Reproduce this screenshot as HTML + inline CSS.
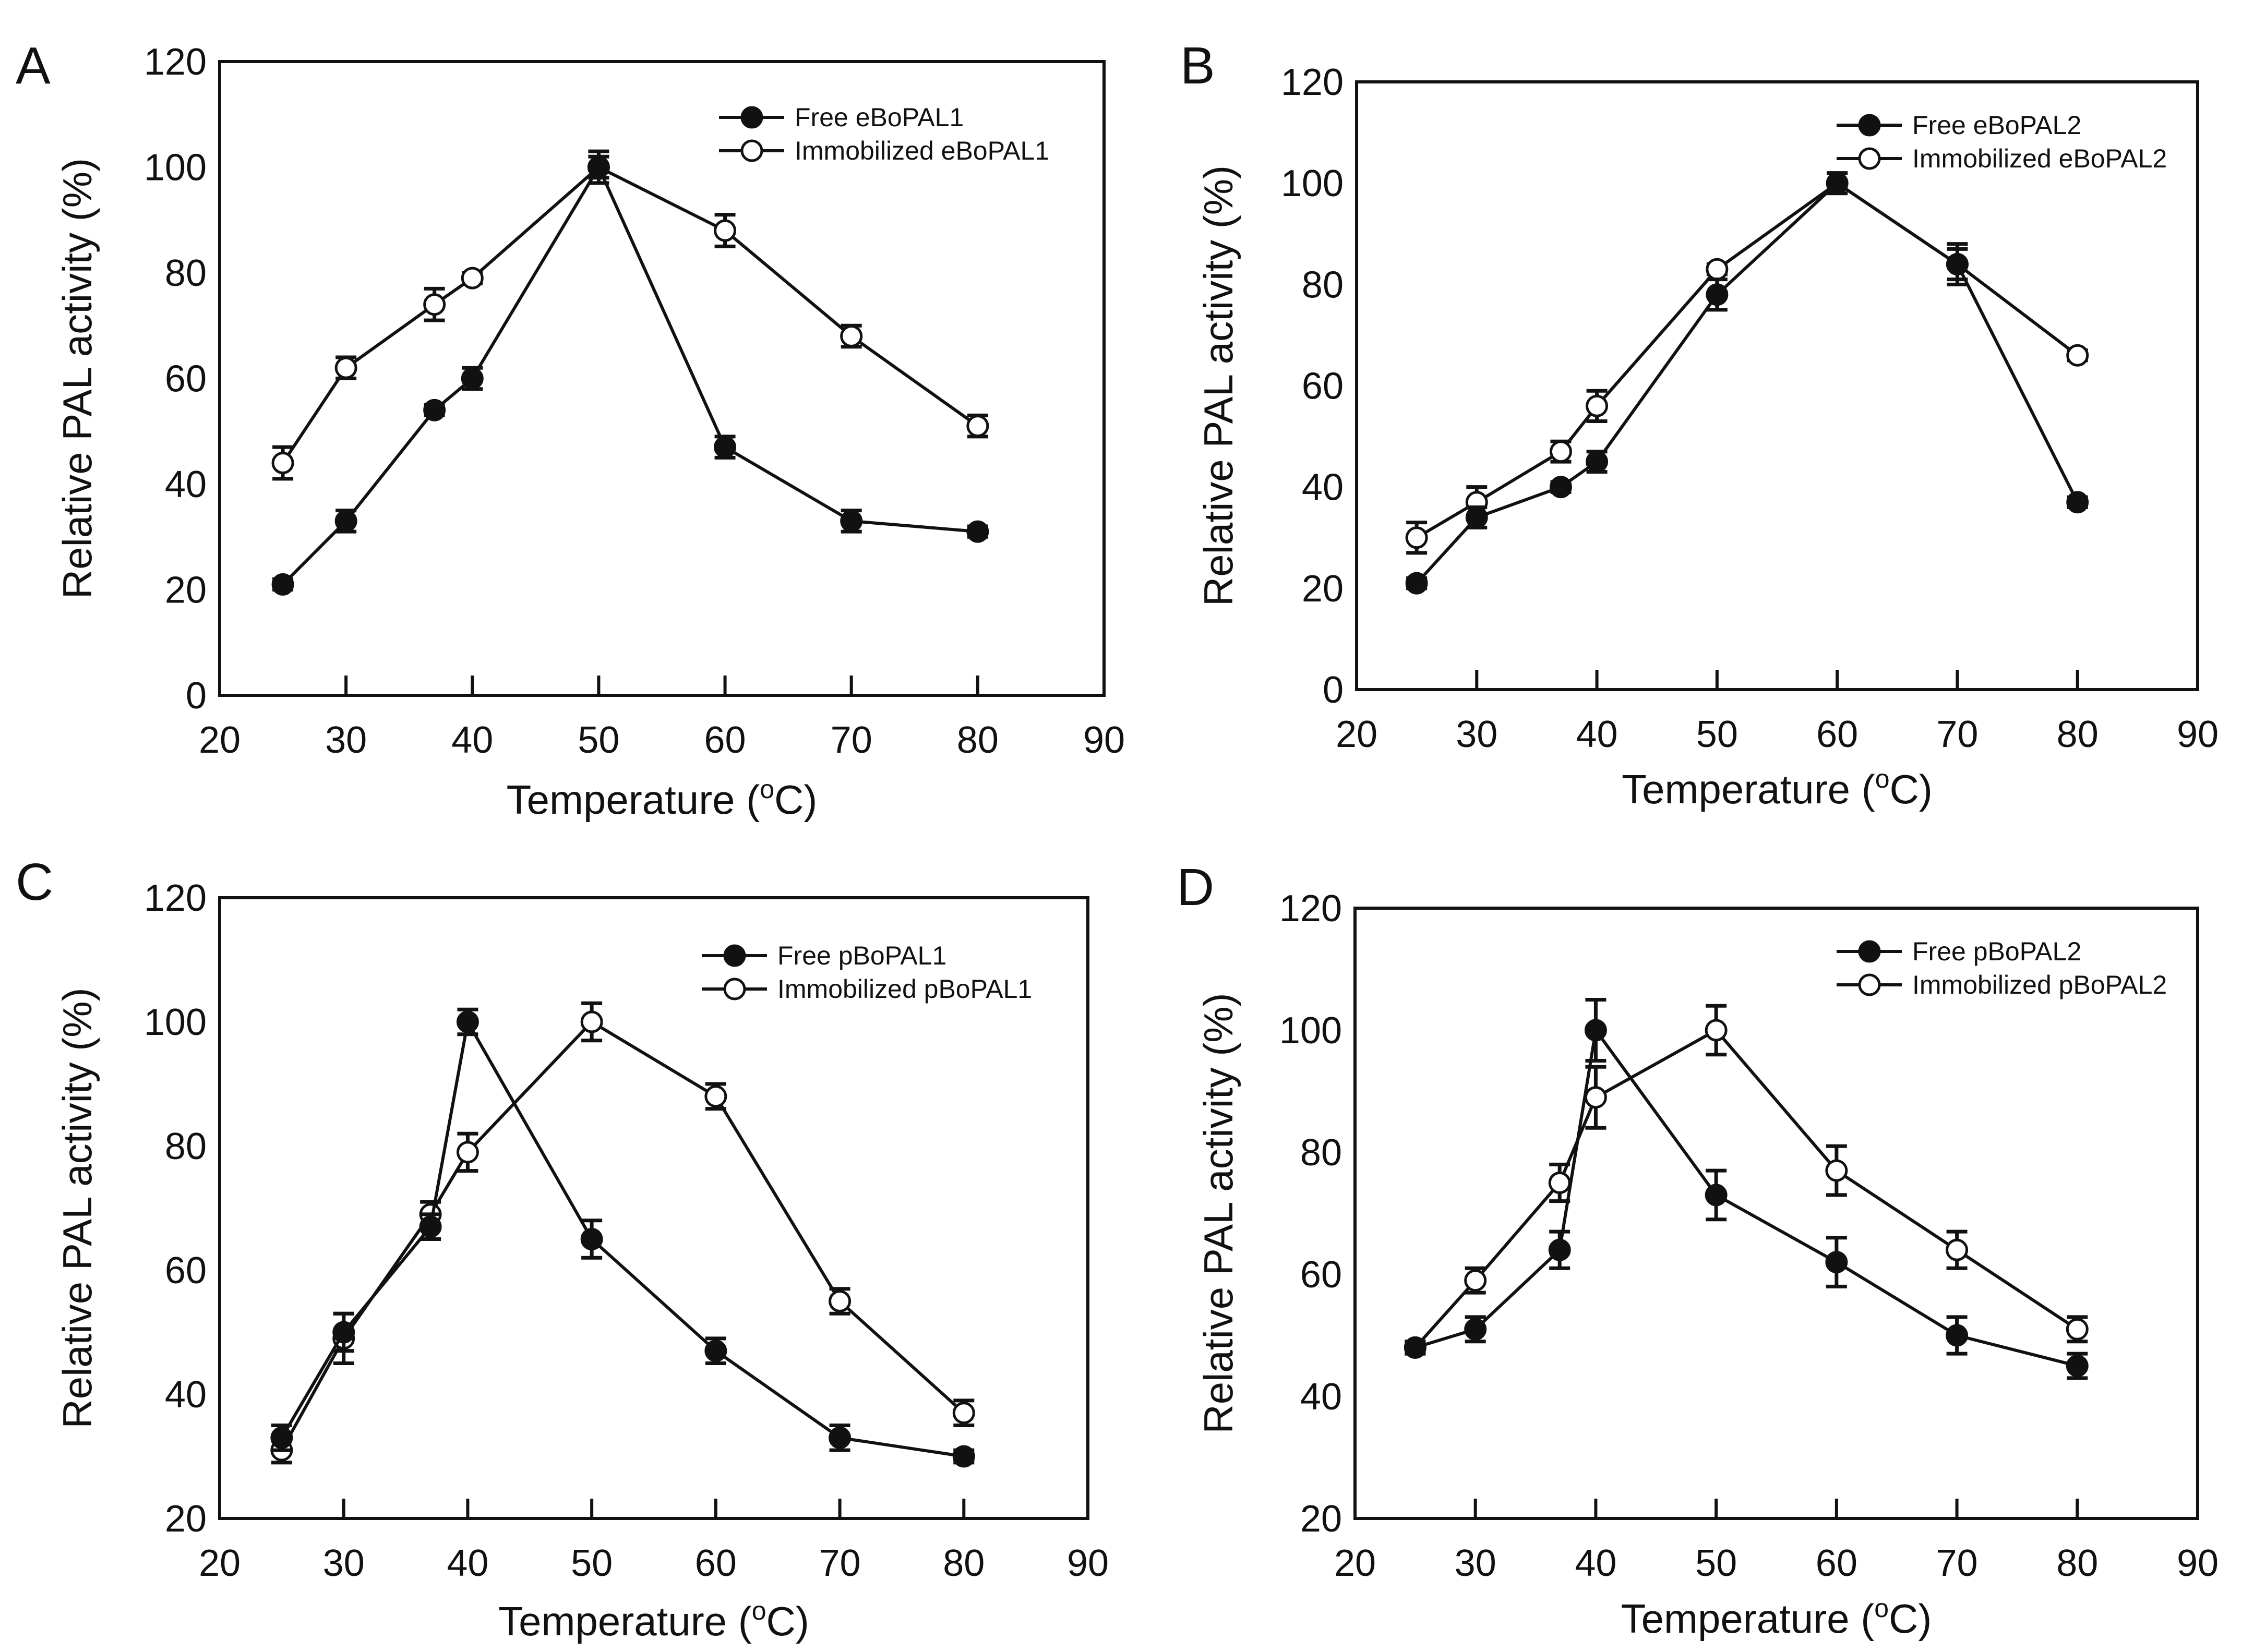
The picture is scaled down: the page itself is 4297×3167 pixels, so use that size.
<!DOCTYPE html>
<html><head><meta charset="utf-8">
<style>
html,body{margin:0;padding:0;background:#fff;}
svg{display:block;}
text{font-family:"Liberation Sans",Arial,sans-serif;fill:#111;}
</style></head>
<body>
<svg id="fig" width="4297" height="3167" viewBox="0 0 4297 3167" xmlns="http://www.w3.org/2000/svg"></svg>
<script>
const temps = [25,30,37,40,50,60,70,80];
const aFree = [21,33,54,60,100,47,33,31];
const aFreeErr = [1,2,1,2,2,2,2,1];
const aImm = [44,62,74,79,100,88,68,51];
const aImmErr = [3,2,3,1,3,3,2,2];
const bFree = [21,34,40,45,78,100,84,37];
const bFreeErr = [1,2,1,2,3,2,3,1];
const bImm = [30,37,47,56,83,100,84,66];
const bImmErr = [3,3,2,3,1,2,4,1];
const cFree = [33,50,67,100,65,47,33,30];
const cFreeErr = [2,3,2,2,3,2,2,1];
const cImm = [31,49,69,79,100,88,55,37];
const cImmErr = [2,4,2,3,3,2,2,2];
const dFree = [48,51,64,100,73,62,50,45];
const dFreeErr = [1,2,3,5,4,4,3,2];
const dImm = [48,59,75,89,100,77,64,51];
const dImmErr = [1,2,3,5,4,4,3,2];
const xTicks = [20,30,40,50,60,70,80,90];
const yTicksAB = [0,20,40,60,80,100,120];
const yTicksCD = [20,40,60,80,100,120];

const NS="http://www.w3.org/2000/svg";
const svg=document.getElementById('fig');
function el(tag,attrs,parent,txt){const e=document.createElementNS(NS,tag);for(const k in attrs)e.setAttribute(k,attrs[k]);if(txt!==undefined)e.textContent=txt;(parent||svg).appendChild(e);return e;}

const panels=[
 {id:'a',letter:'A',L:421,R:2116,T:118,B:1333,ymin:0,ymax:120,yt:yTicksAB,free:aFree,fe:aFreeErr,imm:aImm,ie:aImmErr,names:['Free eBoPAL1','Immobilized eBoPAL1'],lx:1503,ly:225,lettX:30,lettY:160,ytX:175,xtY:1560},
 {id:'b',letter:'B',L:2600,R:4212,T:157,B:1322,ymin:0,ymax:120,yt:yTicksAB,free:bFree,fe:bFreeErr,imm:bImm,ie:bImmErr,names:['Free eBoPAL2','Immobilized eBoPAL2'],lx:3645,ly:240,lettX:2262,lettY:160,ytX:2362,xtY:1540},
 {id:'c',letter:'C',L:421,R:2085,T:1721,B:2911,ymin:20,ymax:120,yt:yTicksCD,free:cFree,fe:cFreeErr,imm:cImm,ie:cImmErr,names:['Free pBoPAL1','Immobilized pBoPAL1'],lx:1470,ly:1832,lettX:30,lettY:1725,ytX:175,xtY:3135},
 {id:'d',letter:'D',L:2597,R:4212,T:1741,B:2911,ymin:20,ymax:120,yt:yTicksCD,free:dFree,fe:dFreeErr,imm:dImm,ie:dImmErr,names:['Free pBoPAL2','Immobilized pBoPAL2'],lx:3645,ly:1824,lettX:2255,lettY:1735,ytX:2362,xtY:3130}
];

panels.forEach(p=>{
 const g=el('g',{});
 
 
 const xs=v=>p.L+(v-20)/(90-20)*(p.R-p.L);
 const ys=v=>p.B-(v-p.ymin)/(p.ymax-p.ymin)*(p.B-p.T);
 const frame=el('rect',{x:p.L,y:p.T,width:p.R-p.L,height:p.B-p.T,fill:'none',stroke:'#111','stroke-width':6},g);
 
 
 const lt=el('text',{x:p.lettX,y:p.lettY,'font-size':100},g,p.letter);
 
 
 xTicks.forEach(v=>{
  if(v>20&&v<90){const tk=el('line',{x1:xs(v),x2:xs(v),y1:p.B,y2:p.B-38,stroke:'#111','stroke-width':6},g);
   
   }
  const t=el('text',{x:xs(v),y:p.B+110,'font-size':72,'text-anchor':'middle'},g,String(v));
  
  
 });
 p.yt.forEach(v=>{
  const t=el('text',{x:p.L-25,y:ys(v)+25,'font-size':72,'text-anchor':'end'},g,String(v));
  
  
 });
 const yc=(p.T+p.B)/2;
 const yt=el('text',{x:p.ytX,y:yc,'font-size':78,'text-anchor':'middle',transform:`rotate(-90 ${p.ytX} ${yc})`},g,'Relative PAL activity (%)');
 
 
 const xt=el('text',{x:(p.L+p.R)/2,y:p.xtY,'font-size':78,'text-anchor':'middle'},g);
 
 
 el('tspan',{},xt,'Temperature (');
 el('tspan',{'font-size':50,dy:-30},xt,'o');
 el('tspan',{dy:30},xt,'C)');

 [[p.imm,p.ie,'#fff','immobilized'],[p.free,p.fe,'#111','free']].forEach(([vals,errs,fill,nm])=>{
  const sg=el('g',{},g);
  
  
  const pts=temps.map((t,i)=>xs(t)+','+ys(vals[i])).join(' ');
  const pl=el('polyline',{points:pts,fill:'none',stroke:'#111','stroke-width':6},sg);
  
  
  temps.forEach((t,i)=>{
   const x=xs(t),y1=ys(vals[i]+errs[i]),y2=ys(vals[i]-errs[i]);
   const eb=el('path',{d:`M${x},${y1}V${y2}M${x-20},${y1}H${x+20}M${x-20},${y2}H${x+20}`,stroke:'#111','stroke-width':7,fill:'none'},sg);
   
   
   const c=el('circle',{cx:x,cy:ys(vals[i]),r:19,fill:fill,stroke:'#111','stroke-width':5},sg);
   
   
  });
 });
 const lg=el('g',{},g);
 
 
 [['#111',p.names[0]],['#fff',p.names[1]]].forEach(([f,nm],k)=>{
  const y=p.ly+k*64;
  const ln=el('line',{x1:p.lx-125,x2:p.lx,y1:y,y2:y,stroke:'#111','stroke-width':6},lg);
  
  
  const c=el('circle',{cx:p.lx-62,cy:y,r:19,fill:f,stroke:'#111','stroke-width':5},lg);
  
  
  const t=el('text',{x:p.lx+20,y:y+17,'font-size':50},lg,nm);
  
  
 });
});
</script>
</body></html>
